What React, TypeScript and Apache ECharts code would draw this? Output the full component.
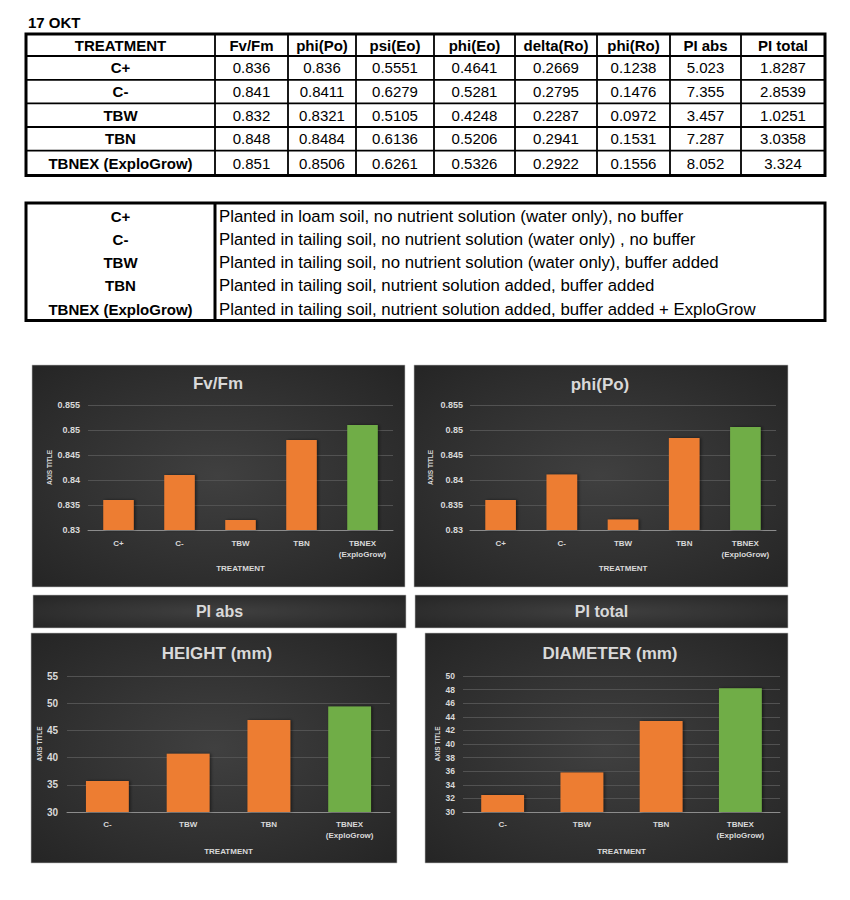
import React, { useEffect, useRef } from "react";
import * as echarts from "echarts";

// ---------- data ----------
const dateLabel = "17 OKT";
const tableHeaders = ["TREATMENT", "Fv/Fm", "phi(Po)", "psi(Eo)", "phi(Eo)", "delta(Ro)", "phi(Ro)", "PI abs", "PI total"];
const treatments = ["C+", "C-", "TBW", "TBN", "TBNEX (ExploGrow)"];
const fvFm = [0.836, 0.841, 0.832, 0.848, 0.851];
const phiPo = [0.836, 0.8411, 0.8321, 0.8484, 0.8506];
const psiEo = [0.5551, 0.6279, 0.5105, 0.6136, 0.6261];
const phiEo = [0.4641, 0.5281, 0.4248, 0.5206, 0.5326];
const deltaRo = [0.2669, 0.2795, 0.2287, 0.2941, 0.2922];
const phiRo = [0.1238, 0.1476, 0.0972, 0.1531, 0.1556];
const piAbs = [5.023, 7.355, 3.457, 7.287, 8.052];
const piTotal = [1.8287, 2.8539, 1.0251, 3.0358, 3.324];
const descriptions = [
  "Planted in loam soil, no nutrient solution (water only), no buffer",
  "Planted in tailing soil, no nutrient solution (water only) , no buffer",
  "Planted in tailing soil, no nutrient solution (water only), buffer added",
  "Planted in tailing soil, nutrient solution added, buffer added",
  "Planted in tailing soil, nutrient solution added, buffer added + ExploGrow",
];

const chartCats = ["C+", "C-", "TBW", "TBN", "TBNEX\n(ExploGrow)"];
const growthCats = ["C-", "TBW", "TBN", "TBNEX\n(ExploGrow)"];
const heightMm = [35.7, 40.7, 46.9, 49.4];
const diameterMm = [32.5, 35.8, 43.4, 48.2];

const chartTitles = ["Fv/Fm", "phi(Po)", "HEIGHT (mm)", "DIAMETER (mm)"];
const bandTitles = ["PI abs", "PI total"];
const xAxisName = "TREATMENT";
const yAxisName = "AXIS TITLE";

// ---------- style ----------
const FONT = "'Liberation Sans', Arial, sans-serif";
const ORANGE = "#ED7D31";
const GREEN = "#70AD47";
const LIGHT = "#d9d9d9";

const colLines = [26, 215, 288, 356, 434, 515, 597, 670, 741, 825];
const rowLines = [34, 56, 79.8, 103.4, 127, 150.6, 175.5];
const t2Top = 203;
const t2Bottom = 320.5;
const t2RowY = [216, 239.3, 262.6, 285.9, 309.2];

const darkFill = () =>
  new echarts.graphic.RadialGradient(0.5, 0.5, 0.75, [
    { offset: 0, color: "#404040" },
    { offset: 1, color: "#232323" },
  ]);

const boxes = [
  { x: 32, y: 365, w: 373, h: 222 },
  { x: 414, y: 365, w: 374, h: 222 },
  { x: 31, y: 633, w: 366, h: 230 },
  { x: 425, y: 633, w: 363, h: 230 },
];
const bands = [
  { x: 33, y: 595, w: 373, h: 33 },
  { x: 415, y: 595, w: 373, h: 33 },
];
const titlePos = [
  [218, 383],
  [600, 384],
  [217, 653],
  [610, 653],
];

function buildGraphic() {
  const els: any[] = [];
  boxes.forEach((b) =>
    els.push({
      type: "rect",
      z: 0,
      shape: { x: b.x, y: b.y, width: b.w, height: b.h },
      style: { fill: darkFill(), stroke: "#bfbfbf", lineWidth: 0.6 },
    })
  );
  bands.forEach((b, i) => {
    els.push({
      type: "rect",
      z: 0,
      shape: { x: b.x, y: b.y, width: b.w, height: b.h },
      style: { fill: darkFill(), stroke: "#bfbfbf", lineWidth: 0.6 },
    });
    els.push({
      type: "text",
      z: 5,
      x: b.x + b.w / 2,
      y: b.y + b.h / 2,
      style: {
        text: bandTitles[i],
        fill: LIGHT,
        fontSize: 16,
        fontWeight: "bold",
        fontFamily: FONT,
        align: "center",
        verticalAlign: "middle",
      },
    });
  });
  chartTitles.forEach((t, i) =>
    els.push({
      type: "text",
      z: 5,
      x: titlePos[i][0],
      y: titlePos[i][1],
      style: {
        text: t,
        fill: LIGHT,
        fontSize: 17,
        fontWeight: "bold",
        fontFamily: FONT,
        align: "center",
        verticalAlign: "middle",
      },
    })
  );

  els.push({
    type: "text",
    x: 28,
    y: 22,
    style: { text: dateLabel, fill: "#000", fontSize: 15, fontWeight: "bold", fontFamily: FONT, verticalAlign: "middle" },
  });

  // table 1
  const columns = [treatments, fvFm, phiPo, psiEo, phiEo, deltaRo, phiRo, piAbs, piTotal];
  const L = colLines[0];
  const R = colLines[colLines.length - 1];
  const T = rowLines[0];
  const B = rowLines[rowLines.length - 1];
  for (let i = 1; i < rowLines.length - 1; i++) {
    els.push({ type: "line", shape: { x1: L, y1: rowLines[i], x2: R, y2: rowLines[i] }, style: { stroke: "#000", lineWidth: 1.8 } });
  }
  for (let j = 1; j < colLines.length - 1; j++) {
    els.push({ type: "line", shape: { x1: colLines[j], y1: T, x2: colLines[j], y2: B }, style: { stroke: "#000", lineWidth: 1.8 } });
  }
  els.push({ type: "rect", shape: { x: L, y: T, width: R - L, height: B - T }, style: { fill: "none", stroke: "#000", lineWidth: 3 } });
  tableHeaders.forEach((h, j) =>
    els.push({
      type: "text",
      x: (colLines[j] + colLines[j + 1]) / 2,
      y: (rowLines[0] + rowLines[1]) / 2,
      style: { text: h, fill: "#000", fontSize: 15, fontWeight: "bold", fontFamily: FONT, align: "center", verticalAlign: "middle" },
    })
  );
  columns.forEach((col, j) =>
    col.forEach((v, i) =>
      els.push({
        type: "text",
        x: (colLines[j] + colLines[j + 1]) / 2,
        y: (rowLines[i + 1] + rowLines[i + 2]) / 2,
        style: {
          text: String(v),
          fill: "#000",
          fontSize: 15,
          fontWeight: j === 0 ? "bold" : "normal",
          fontFamily: FONT,
          align: "center",
          verticalAlign: "middle",
        },
      })
    )
  );

  // table 2
  els.push({ type: "line", shape: { x1: colLines[1], y1: t2Top, x2: colLines[1], y2: t2Bottom }, style: { stroke: "#000", lineWidth: 3 } });
  els.push({ type: "rect", shape: { x: L, y: t2Top, width: R - L, height: t2Bottom - t2Top }, style: { fill: "none", stroke: "#000", lineWidth: 3 } });
  treatments.forEach((t, i) => {
    els.push({
      type: "text",
      x: (colLines[0] + colLines[1]) / 2,
      y: t2RowY[i],
      style: { text: t, fill: "#000", fontSize: 15, fontWeight: "bold", fontFamily: FONT, align: "center", verticalAlign: "middle" },
    });
    els.push({
      type: "text",
      x: colLines[1] + 4,
      y: t2RowY[i],
      style: { text: descriptions[i], fill: "#000", fontSize: 16.8, fontFamily: FONT, align: "left", verticalAlign: "middle" },
    });
  });
  return els;
}

const grids = [
  { left: 88, top: 405, width: 305, height: 125 },
  { left: 470, top: 405, width: 306, height: 125 },
  { left: 67, top: 676, width: 323, height: 136 },
  { left: 463, top: 676, width: 317, height: 136 },
];
const yCfg = [
  { min: 0.83, max: 0.855, interval: 0.005, fs: 9, margin: 8, nameGap: 35 },
  { min: 0.83, max: 0.855, interval: 0.005, fs: 9, margin: 7, nameGap: 36 },
  { min: 30, max: 55, interval: 5, fs: 10, margin: 9, nameGap: 24 },
  { min: 30, max: 50, interval: 2, fs: 8.5, margin: 8, nameGap: 22 },
];
const xCfg = [
  { cats: chartCats, margin: 8, nameGap: 34, barWidth: "50%" },
  { cats: chartCats, margin: 8, nameGap: 34, barWidth: "50%" },
  { cats: growthCats, margin: 7, nameGap: 35, barWidth: "53%" },
  { cats: growthCats, margin: 7, nameGap: 35, barWidth: "54%" },
];
const seriesValues = [fvFm, phiPo, heightMm, diameterMm];

export default function App() {
  const ref = useRef<HTMLDivElement>(null);
  useEffect(() => {
    if (!ref.current) return;
    const chart = echarts.init(ref.current, undefined, { renderer: "svg" });
    const labelStyle = { color: LIGHT, fontWeight: "bold" as const, fontFamily: FONT };
    const option: any = {
      animation: false,
      backgroundColor: "#ffffff",
      graphic: { elements: buildGraphic() },
      grid: grids.map((g) => ({ ...g, containLabel: false })),
      xAxis: xCfg.map((c, i) => ({
        type: "category",
        gridIndex: i,
        z: 3,
        data: c.cats,
        axisLine: { show: true, lineStyle: { color: "#8c8c8c", width: 1 } },
        axisTick: { show: false },
        axisLabel: { ...labelStyle, fontSize: 8, margin: c.margin, interval: 0, lineHeight: 11 },
        splitLine: { show: false },
        name: xAxisName,
        nameLocation: "middle",
        nameGap: c.nameGap,
        nameTextStyle: { ...labelStyle, fontSize: 8 },
      })),
      yAxis: yCfg.map((c, i) => ({
        type: "value",
        gridIndex: i,
        z: 3,
        min: c.min,
        max: c.max,
        interval: c.interval,
        axisLine: { show: false },
        axisTick: { show: false },
        axisLabel: { ...labelStyle, fontSize: c.fs, margin: c.margin },
        splitLine: { show: true, lineStyle: { color: "#525252", width: 1 } },
        name: yAxisName,
        nameLocation: "middle",
        nameRotate: 90,
        nameGap: c.nameGap,
        nameTextStyle: { ...labelStyle, fontSize: 6.5 },
      })),
      series: seriesValues.map((vals, i) => ({
        type: "bar",
        xAxisIndex: i,
        yAxisIndex: i,
        z: 4,
        barWidth: xCfg[i].barWidth,
        data: vals.map((v, k) => ({
          value: v,
          itemStyle: { color: k === vals.length - 1 ? GREEN : ORANGE },
        })),
        itemStyle: { shadowColor: "rgba(0,0,0,0.5)", shadowBlur: 3, shadowOffsetX: 1.5, shadowOffsetY: 0 },
      })),
    };
    chart.setOption(option);
    return () => chart.dispose();
  }, []);
  return <div ref={ref} style={{ position: "absolute", left: 0, top: 0, width: 850, height: 900 }} />;
}
